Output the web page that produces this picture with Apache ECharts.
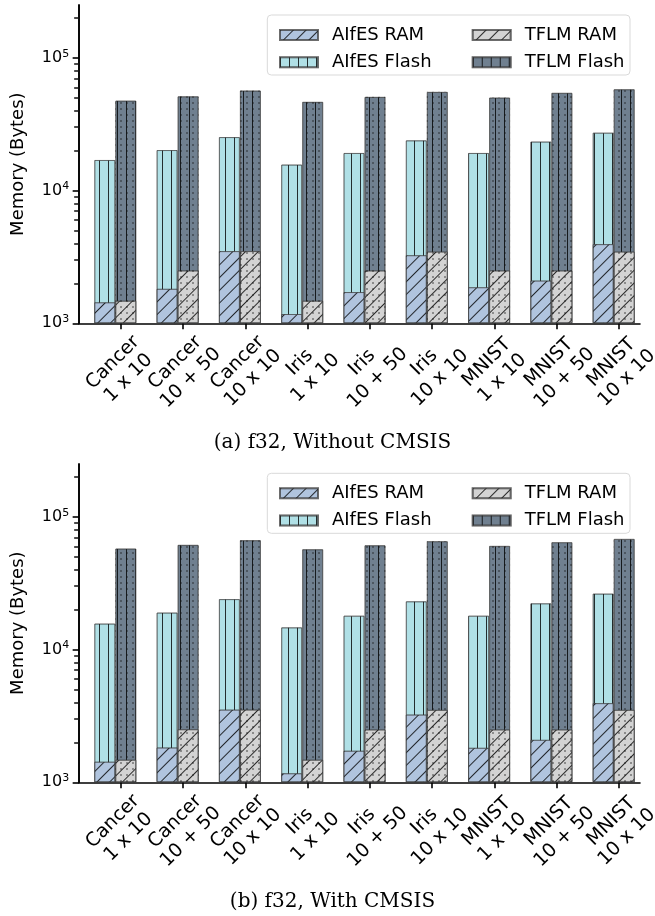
<!DOCTYPE html>
<html><head><meta charset="utf-8">
<script src="https://cdn.jsdelivr.net/npm/echarts@6/dist/echarts.min.js"></script>
<style>html,body{margin:0;padding:0;background:#fff}#c{width:655px;height:916px}</style>
</head><body><div id="c"></div>
<script>
// ---------------- data ----------------
const datasets = ['Cancer','Cancer','Cancer','Iris','Iris','Iris','MNIST','MNIST','MNIST'];
const configs  = ['1 x 10','10 + 50','10 x 10','1 x 10','10 + 50','10 x 10','1 x 10','10 + 50','10 x 10'];
const seriesNames = ['AIfES RAM','AIfES Flash','TFLM RAM','TFLM Flash'];
const yTickValues = [1000, 10000, 100000];
const yTickExps   = ['3','4','5'];
const yMinorTicks = [2000,3000,4000,5000,6000,7000,8000,9000,20000,30000,40000,50000,60000,70000,80000,90000,200000];
const captions = ['(a) f32, Without CMSIS','(b) f32, With CMSIS'];

// (a) without CMSIS
const aifesRamA   = [1440, 1820, 3500, 1175, 1720, 3260, 1870, 2100, 3950];
const aifesFlashA = [17000, 20200, 25300, 15700, 19200, 23900, 19200, 23400, 27300];
const tflmRamA    = [1480, 2500, 3500, 1480, 2500, 3470, 2500, 2500, 3470];
const tflmFlashA  = [47600, 51300, 56700, 46600, 50800, 55400, 50200, 54500, 58000];
// (b) with CMSIS
const aifesRamB   = [1430, 1830, 3530, 1170, 1730, 3240, 1820, 2090, 3950];
const aifesFlashB = [15700, 19000, 24000, 14700, 18000, 23100, 18000, 22300, 26400];
const tflmRamB    = [1480, 2510, 3530, 1480, 2500, 3515, 2500, 2500, 3515];
const tflmFlashB  = [57700, 61500, 66700, 57000, 61100, 65500, 60400, 64400, 68200];

// ---------------- build ----------------
const categories = datasets.map((d, i) => d + '\n' + configs[i]);
const FONT = 'DejaVu Sans';
const colors = {aifesRam:'#b0c4de', aifesFlash:'#b0e0e6', tflmRam:'#d3d3d3', tflmFlash:'#708090'};
const edge = 'rgba(60,60,60,0.5)';

function decalV(){ return {symbol:'rect', symbolSize:1, symbolKeepAspect:false, dashArrayX:[1,8], dashArrayY:[4,0], color:'rgba(0,0,0,0.8)'}; }
function decalDiag(){ return {symbol:'rect', symbolSize:1, symbolKeepAspect:false, dashArrayX:[4,0], dashArrayY:[1,8], rotation:-Math.PI/4, color:'rgba(0,0,0,0.8)'}; }
function decalDots(){ return {symbol:'circle', symbolSize:0.8, dashArrayX:[2,4], dashArrayY:[2,4], color:'rgba(20,20,20,0.85)'}; }

const charts = [
  {aR:aifesRamA, aF:aifesFlashA, tR:tflmRamA, tF:tflmFlashA},
  {aR:aifesRamB, aF:aifesFlashB, tR:tflmRamB, tF:tflmFlashB}
];
const layouts = [{top:5, box:15, cap:443}, {top:464, box:473.3, cap:902}];
const H = 318.3;

const option = {animation:false, grid:[], xAxis:[], yAxis:[], series:[], legend:[], graphic:[]};

charts.forEach((c, k) => {
  const L = layouts[k];
  const g0 = option.grid.length;
  option.grid.push({left:84.15, width:560.7, top:L.top, height:H, outerBoundsMode:'none'});
  option.grid.push({left:79, width:561, top:L.top, height:H, outerBoundsMode:'none'});
  option.grid.push({left:89.55, width:560.7, top:L.top, height:H, outerBoundsMode:'none'});

  const x0 = option.xAxis.length;
  for (let j = 0; j < 3; j++) option.xAxis.push({type:'category', data:categories, gridIndex:g0, show:false});
  option.xAxis.push({type:'category', data:categories, gridIndex:g0+1,
    axisLine:{show:true, onZero:false, lineStyle:{color:'#000', width:1.6}},
    axisTick:{show:false}, axisLabel:{show:false}, splitLine:{show:false}});
  option.xAxis.push({type:'category', data:categories, gridIndex:g0+2,
    axisLine:{show:false, onZero:false},
    axisTick:{show:true, alignWithLabel:true, length:6, lineStyle:{color:'#000', width:1.6}},
    axisLabel:{interval:0, rotate:45, align:'center', verticalAlign:'middle', margin:47,
      fontFamily:FONT, fontSize:19, lineHeight:22, color:'#000'},
    splitLine:{show:false}});

  const y0 = option.yAxis.length;
  option.yAxis.push({type:'log', gridIndex:g0, position:'left', min:1000, max:250000, startValue:1000, offset:5,
    name:'Memory (Bytes)', nameLocation:'middle', nameGap:52,
    nameTextStyle:{fontFamily:FONT, fontSize:18, color:'#000'},
    axisLine:{show:true, lineStyle:{color:'#000', width:1.6}},
    axisTick:{show:true, length:6.5, customValues:yTickValues, lineStyle:{color:'#000', width:1.6}},
    axisLabel:{show:true, margin:10, customValues:yTickValues, fontFamily:FONT, fontSize:16, color:'#000',
      formatter: v => { const i = yTickValues.indexOf(v); return i < 0 ? '' : '10{sup|' + yTickExps[i] + '}'; },
      rich:{sup:{fontFamily:FONT, fontSize:11, color:'#000', verticalAlign:'top', padding:[0,0,8,0]}}},
    splitLine:{show:false}});
  option.yAxis.push({type:'log', gridIndex:g0, position:'left', min:1000, max:250000, offset:5,
    axisLine:{show:true, lineStyle:{color:'#000', width:1.6}},
    axisTick:{show:true, length:5, customValues:yMinorTicks, lineStyle:{color:'#111', width:1.5}},
    axisLabel:{show:false}, splitLine:{show:false}});
  option.yAxis.push({type:'value', gridIndex:g0+1, show:false});
  option.yAxis.push({type:'value', gridIndex:g0+2, show:false});

  const base = {type:'bar', yAxisIndex:y0, barWidth:21, barGap:'0%', clip:true};
  option.series.push(Object.assign({}, base, {name:'AIfES Flash', xAxisIndex:x0, data:c.aF,
    itemStyle:{color:colors.aifesFlash, borderColor:edge, borderWidth:1, decal:decalV()}}));
  option.series.push(Object.assign({}, base, {name:'TFLM Flash', xAxisIndex:x0, data:c.tF,
    itemStyle:{color:colors.tflmFlash, borderColor:edge, borderWidth:1, decal:decalV()}}));
  option.series.push(Object.assign({}, base, {name:'AIfES RAM', xAxisIndex:x0+1, data:c.aR,
    itemStyle:{color:colors.aifesRam, borderColor:edge, borderWidth:1, decal:decalDiag()}}));
  option.series.push(Object.assign({}, base, {name:'TFLM RAM', xAxisIndex:x0+1, data:c.tR,
    itemStyle:{color:colors.tflmRam, borderColor:edge, borderWidth:1, decal:decalDiag()}}));
  option.series.push(Object.assign({}, base, {name:'pad', xAxisIndex:x0+2, data:c.aF.map(() => null),
    itemStyle:{color:'rgba(0,0,0,0)'}}));
  option.series.push(Object.assign({}, base, {name:'dots', xAxisIndex:x0+2, data:c.tF, silent:true,
    itemStyle:{color:'rgba(0,0,0,0)', borderWidth:0, decal:decalDots()}}));

  const legBase = {orient:'vertical', top:L.box+6, itemWidth:38, itemHeight:10, itemGap:9.3, icon:'rect',
    selectedMode:false, textStyle:{fontFamily:FONT, fontSize:18, color:'#000', padding:[0,0,0,9]}, z:5};
  option.legend.push(Object.assign({}, legBase, {left:274, data:['AIfES RAM','AIfES Flash']}));
  option.legend.push(Object.assign({}, legBase, {left:466.7, data:['TFLM RAM','TFLM Flash']}));

  option.graphic.push({type:'rect', z:3, shape:{x:267.3, y:L.box, width:362.7, height:60, r:4},
    style:{fill:'rgba(255,255,255,0.85)', stroke:'#d9d9d9', lineWidth:1}});
  option.graphic.push({type:'text', x:332.5, y:L.cap,
    style:{text:captions[k], fontFamily:'DejaVu Serif', fontSize:20, fill:'#000', align:'center', verticalAlign:'middle'}});
});

const chart = echarts.init(document.getElementById('c'), null, {renderer:'canvas'});
chart.setOption(option);
</script>
</body></html>
